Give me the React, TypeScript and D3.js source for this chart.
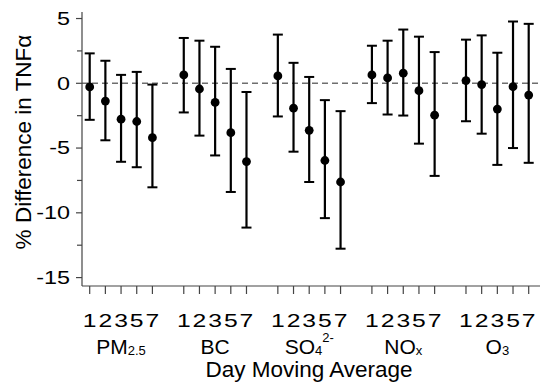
import React from "react";
import * as d3 from "d3";

const days = ["1", "2", "3", "5", "7"];
const pollutants = ["PM2.5", "BC", "SO4", "NOx", "O3"];

const pm25Est = [-0.28, -1.37, -2.77, -2.95, -4.2];
const pm25Lo = [-2.82, -4.4, -6.06, -6.48, -8.03];
const pm25Hi = [2.31, 1.74, 0.65, 0.88, -0.1];

const bcEst = [0.65, -0.44, -1.48, -3.81, -6.04];
const bcLo = [-2.25, -4.04, -5.57, -8.39, -11.14];
const bcHi = [3.5, 3.29, 2.82, 1.11, -0.67];

const so4Est = [0.57, -1.92, -3.63, -5.96, -7.62];
const so4Lo = [-2.56, -5.28, -7.62, -10.41, -12.77];
const so4Hi = [3.76, 1.58, 0.49, -1.3, -2.15];

const noxEst = [0.65, 0.41, 0.78, -0.57, -2.46];
const noxLo = [-1.53, -2.41, -2.49, -4.66, -7.15];
const noxHi = [2.9, 3.29, 4.15, 3.6, 2.41];

const o3Est = [0.21, -0.1, -1.99, -0.26, -0.91];
const o3Lo = [-2.93, -3.89, -6.3, -5.0, -6.14];
const o3Hi = [3.37, 3.7, 2.36, 4.77, 4.59];

const yTicks = [5, 0, -5, -10, -15];
const yMinorTicks = [2.5, -2.5, -7.5, -12.5];

const estimates = [pm25Est, bcEst, so4Est, noxEst, o3Est];
const lowers = [pm25Lo, bcLo, so4Lo, noxLo, o3Lo];
const uppers = [pm25Hi, bcHi, so4Hi, noxHi, o3Hi];

const W = 540;
const H = 385;
const FONT = "'Liberation Sans', Arial, sans-serif";

export default function App() {
  const slots = days.length + 1;
  const x = d3.scaleLinear().domain([0, (pollutants.length - 1) * slots + days.length - 1]).range([89.7, 528.7]);
  const y = d3.scaleLinear().domain([-15.65, 5.35]).range([286, 14]);
  const axisX = 82;
  const axisY = y(-15.65);

  const points = pollutants.flatMap((p, g) =>
    days.map((d, i) => ({
      key: `${p}-${d}`,
      pos: g * slots + i,
      est: estimates[g][i],
      lo: lowers[g][i],
      hi: uppers[g][i],
      day: d,
    }))
  );

  const groupCenter = (g: number) => (x(g * slots) + x(g * slots + days.length - 1)) / 2;

  const renderLabel = (p: string) => {
    const sub = { fontSize: 13 };
    if (p === "PM2.5")
      return (
        <>
          <tspan>PM</tspan>
          <tspan style={sub} dy={1}>2.5</tspan>
        </>
      );
    if (p === "SO4")
      return (
        <>
          <tspan>SO</tspan>
          <tspan style={sub} dy={1}>4</tspan>
          <tspan style={sub} dy={-13}>2-</tspan>
        </>
      );
    if (p === "NOx")
      return (
        <>
          <tspan>NO</tspan>
          <tspan style={sub} dy={1}>x</tspan>
        </>
      );
    if (p === "O3")
      return (
        <>
          <tspan>O</tspan>
          <tspan style={sub} dy={1}>3</tspan>
        </>
      );
    return <tspan>{p}</tspan>;
  };

  return (
    <svg
      width={W}
      height={H}
      style={{ position: "absolute", left: 0, top: 0, background: "#fff" }}
      fontFamily={FONT}
    >
      <rect width={W} height={H} fill="#fff" />
      {/* zero reference line */}
      <line x1={axisX} x2={W} y1={y(0)} y2={y(0)} stroke="#6e6e6e" strokeWidth={1.5} strokeDasharray="6,4" />
      {/* y axis */}
      <line x1={axisX} x2={axisX} y1={12} y2={axisY} stroke="#444" strokeWidth={1.2} />
      {yTicks.map((t) => (
        <g key={t}>
          <line x1={axisX - 6} x2={axisX} y1={y(t)} y2={y(t)} stroke="#444" strokeWidth={1.2} />
          <text
            transform={`translate(${axisX - 12},${y(t)}) scale(1.3,1)`}
            dy="0.35em"
            textAnchor="end"
            fontSize={18}
            fill="#000"
          >
            {t}
          </text>
        </g>
      ))}
      {yMinorTicks.map((t) => (
        <line key={t} x1={axisX - 5} x2={axisX} y1={y(t)} y2={y(t)} stroke="#444" strokeWidth={1.2} />
      ))}
      {/* x axis */}
      <line x1={axisX} x2={W} y1={axisY} y2={axisY} stroke="#444" strokeWidth={1.2} />
      {points.map((p) => (
        <g key={p.key + "t"}>
          <line x1={x(p.pos)} x2={x(p.pos)} y1={axisY} y2={axisY + 8} stroke="#444" strokeWidth={1.2} />
          <text
            transform={`translate(${x(p.pos)},327) scale(1.3,1)`}
            textAnchor="middle"
            fontSize={19}
            fill="#000"
          >
            {p.day}
          </text>
        </g>
      ))}
      {/* error bars */}
      {points.map((p) => (
        <g key={p.key}>
          <line x1={x(p.pos)} x2={x(p.pos)} y1={y(p.lo)} y2={y(p.hi)} stroke="#000" strokeWidth={2.2} />
          <line x1={x(p.pos) - 5} x2={x(p.pos) + 5} y1={y(p.lo)} y2={y(p.lo)} stroke="#000" strokeWidth={2} />
          <line x1={x(p.pos) - 5} x2={x(p.pos) + 5} y1={y(p.hi)} y2={y(p.hi)} stroke="#000" strokeWidth={2} />
          <circle cx={x(p.pos)} cy={y(p.est)} r={4.4} fill="#000" />
        </g>
      ))}
      {/* group labels */}
      {pollutants.map((p, g) => (
        <text key={p} x={groupCenter(g)} y={354} textAnchor="middle" fontSize={21} fill="#000">
          {renderLabel(p)}
        </text>
      ))}
      {/* axis titles */}
      <text x={309} y={377} textAnchor="middle" fontSize={22.5} fill="#000">
        Day Moving Average
      </text>
      <text transform={`translate(31,142) rotate(-90)`} textAnchor="middle" fontSize={22.5} fill="#000">
        % Difference in TNFα
      </text>
    </svg>
  );
}
